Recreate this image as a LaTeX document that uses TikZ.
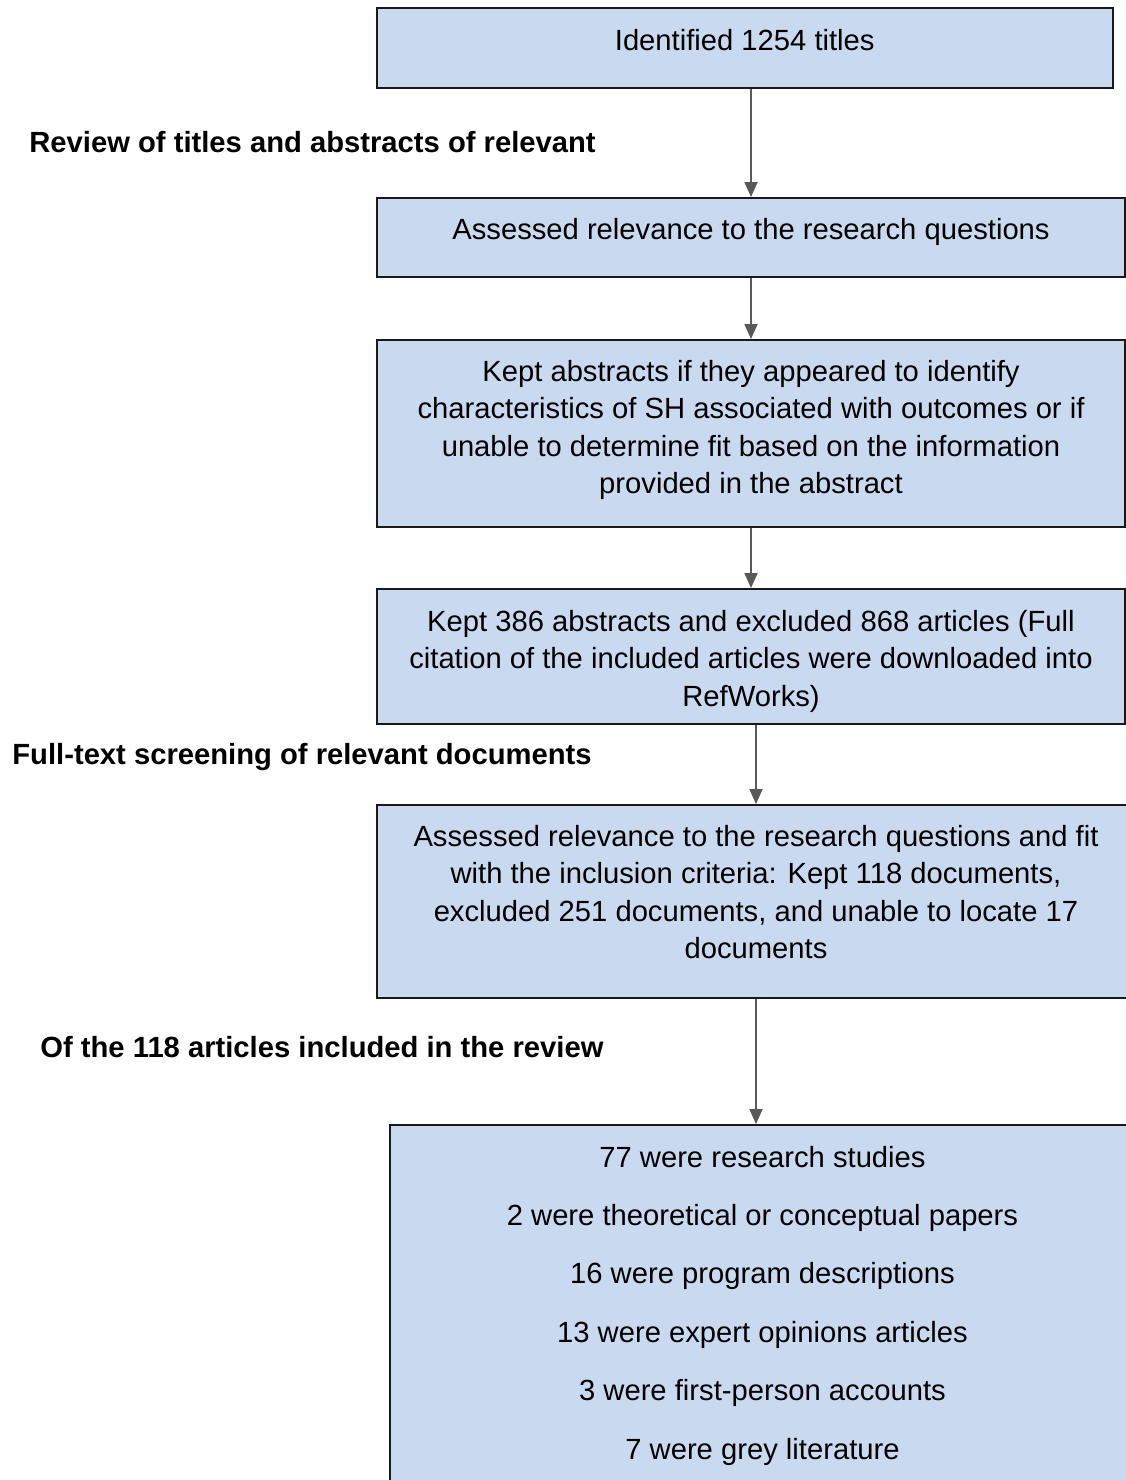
\documentclass[tikz,border=0pt]{standalone}
\usepackage{fontspec}
\setmainfont{Liberation Sans}
\usetikzlibrary{arrows.meta}
\definecolor{boxblue}{HTML}{C9DAF0}
\definecolor{arrowgrey}{HTML}{595959}
\begin{document}
\begin{tikzpicture}[x=0.5pt,y=-0.5pt,
  stagebox/.style={draw=black!90,line width=1pt,fill=boxblue,inner sep=0pt},
  stagetext/.style={align=center,inner sep=0pt,font=\fontsize{14.6}{18.75}\selectfont},
  stagelabel/.style={anchor=base west,inner sep=0pt,font=\fontsize{14.6}{18.75}\selectfont\bfseries},
  flow/.style={draw=arrowgrey,line width=0.9pt,-{Triangle[length=7.5pt,width=6.5pt]}}]
\useasboundingbox (0,0) rectangle (1126,1480);
\clip (0,0) rectangle (1126,1480);
% boxes
\node[stagebox,minimum width=367.75pt,minimum height=40pt] (b1) at (744.75,48) {};
\node[stagebox,minimum width=374pt,minimum height=39.5pt] (b2) at (751,237.5) {};
\node[stagebox,minimum width=374pt,minimum height=93.5pt] (b3) at (751,433.5) {};
\node[stagebox,minimum width=374pt,minimum height=67.5pt] (b4) at (751,656.5) {};
\node[stagebox,minimum width=379pt,minimum height=96.5pt] (b5) at (756,901.5) {};
\node[stagebox,minimum width=372.5pt,minimum height=179pt] (b6) at (762.5,1304) {};
% box texts
\node[stagetext,yshift=4pt] (t1) at (b1) {Identified 1254 titles};
\node[stagetext,yshift=3pt] (t2) at (b2) {Assessed relevance to the research questions};
\node[stagetext,yshift=1.75pt] (t3) at (b3)
  {Kept abstracts if they appeared to identify\\characteristics of SH associated with outcomes or if\\unable to determine fit based on the information\\provided in the abstract};
\node[stagetext,yshift=-2.25pt] (t4) at (b4)
  {Kept 386 abstracts and excluded 868 articles (Full\\citation of the included articles were downloaded into\\RefWorks)};
\node[stagetext,yshift=4.75pt] (t5) at (b5)
  {Assessed relevance to the research questions and fit\\with the inclusion criteria: Kept 118 documents,\\excluded 251 documents, and unable to locate 17\\documents};
\node[stagetext,yshift=-0.75pt,font=\fontsize{14.6}{29.2}\selectfont] (t6) at (b6)
  {77 were research studies\\2 were theoretical or conceptual papers\\16 were program descriptions\\13 were expert opinions articles\\3 were first-person accounts\\7 were grey literature};
% stage headings
\node[stagelabel] (review) at (29,152.5) {Review of titles and abstracts of relevant};
\node[stagelabel] (fulltext) at (12,764.5) {Full-text screening of relevant documents};
\node[stagelabel] (included) at (40,1057.5) {Of the 118 articles included in the review};
% arrows
\draw[flow] (b1.south -| b2.north) -- (b2.north);
\draw[flow] (b2.south) -- (b3.north);
\draw[flow] (b3.south) -- (b4.north);
\draw[flow] (b4.south -| b5.north) -- (b5.north);
\draw[flow] (b5.south) -- (b6.north -| b5.south);
\end{tikzpicture}
\end{document}
